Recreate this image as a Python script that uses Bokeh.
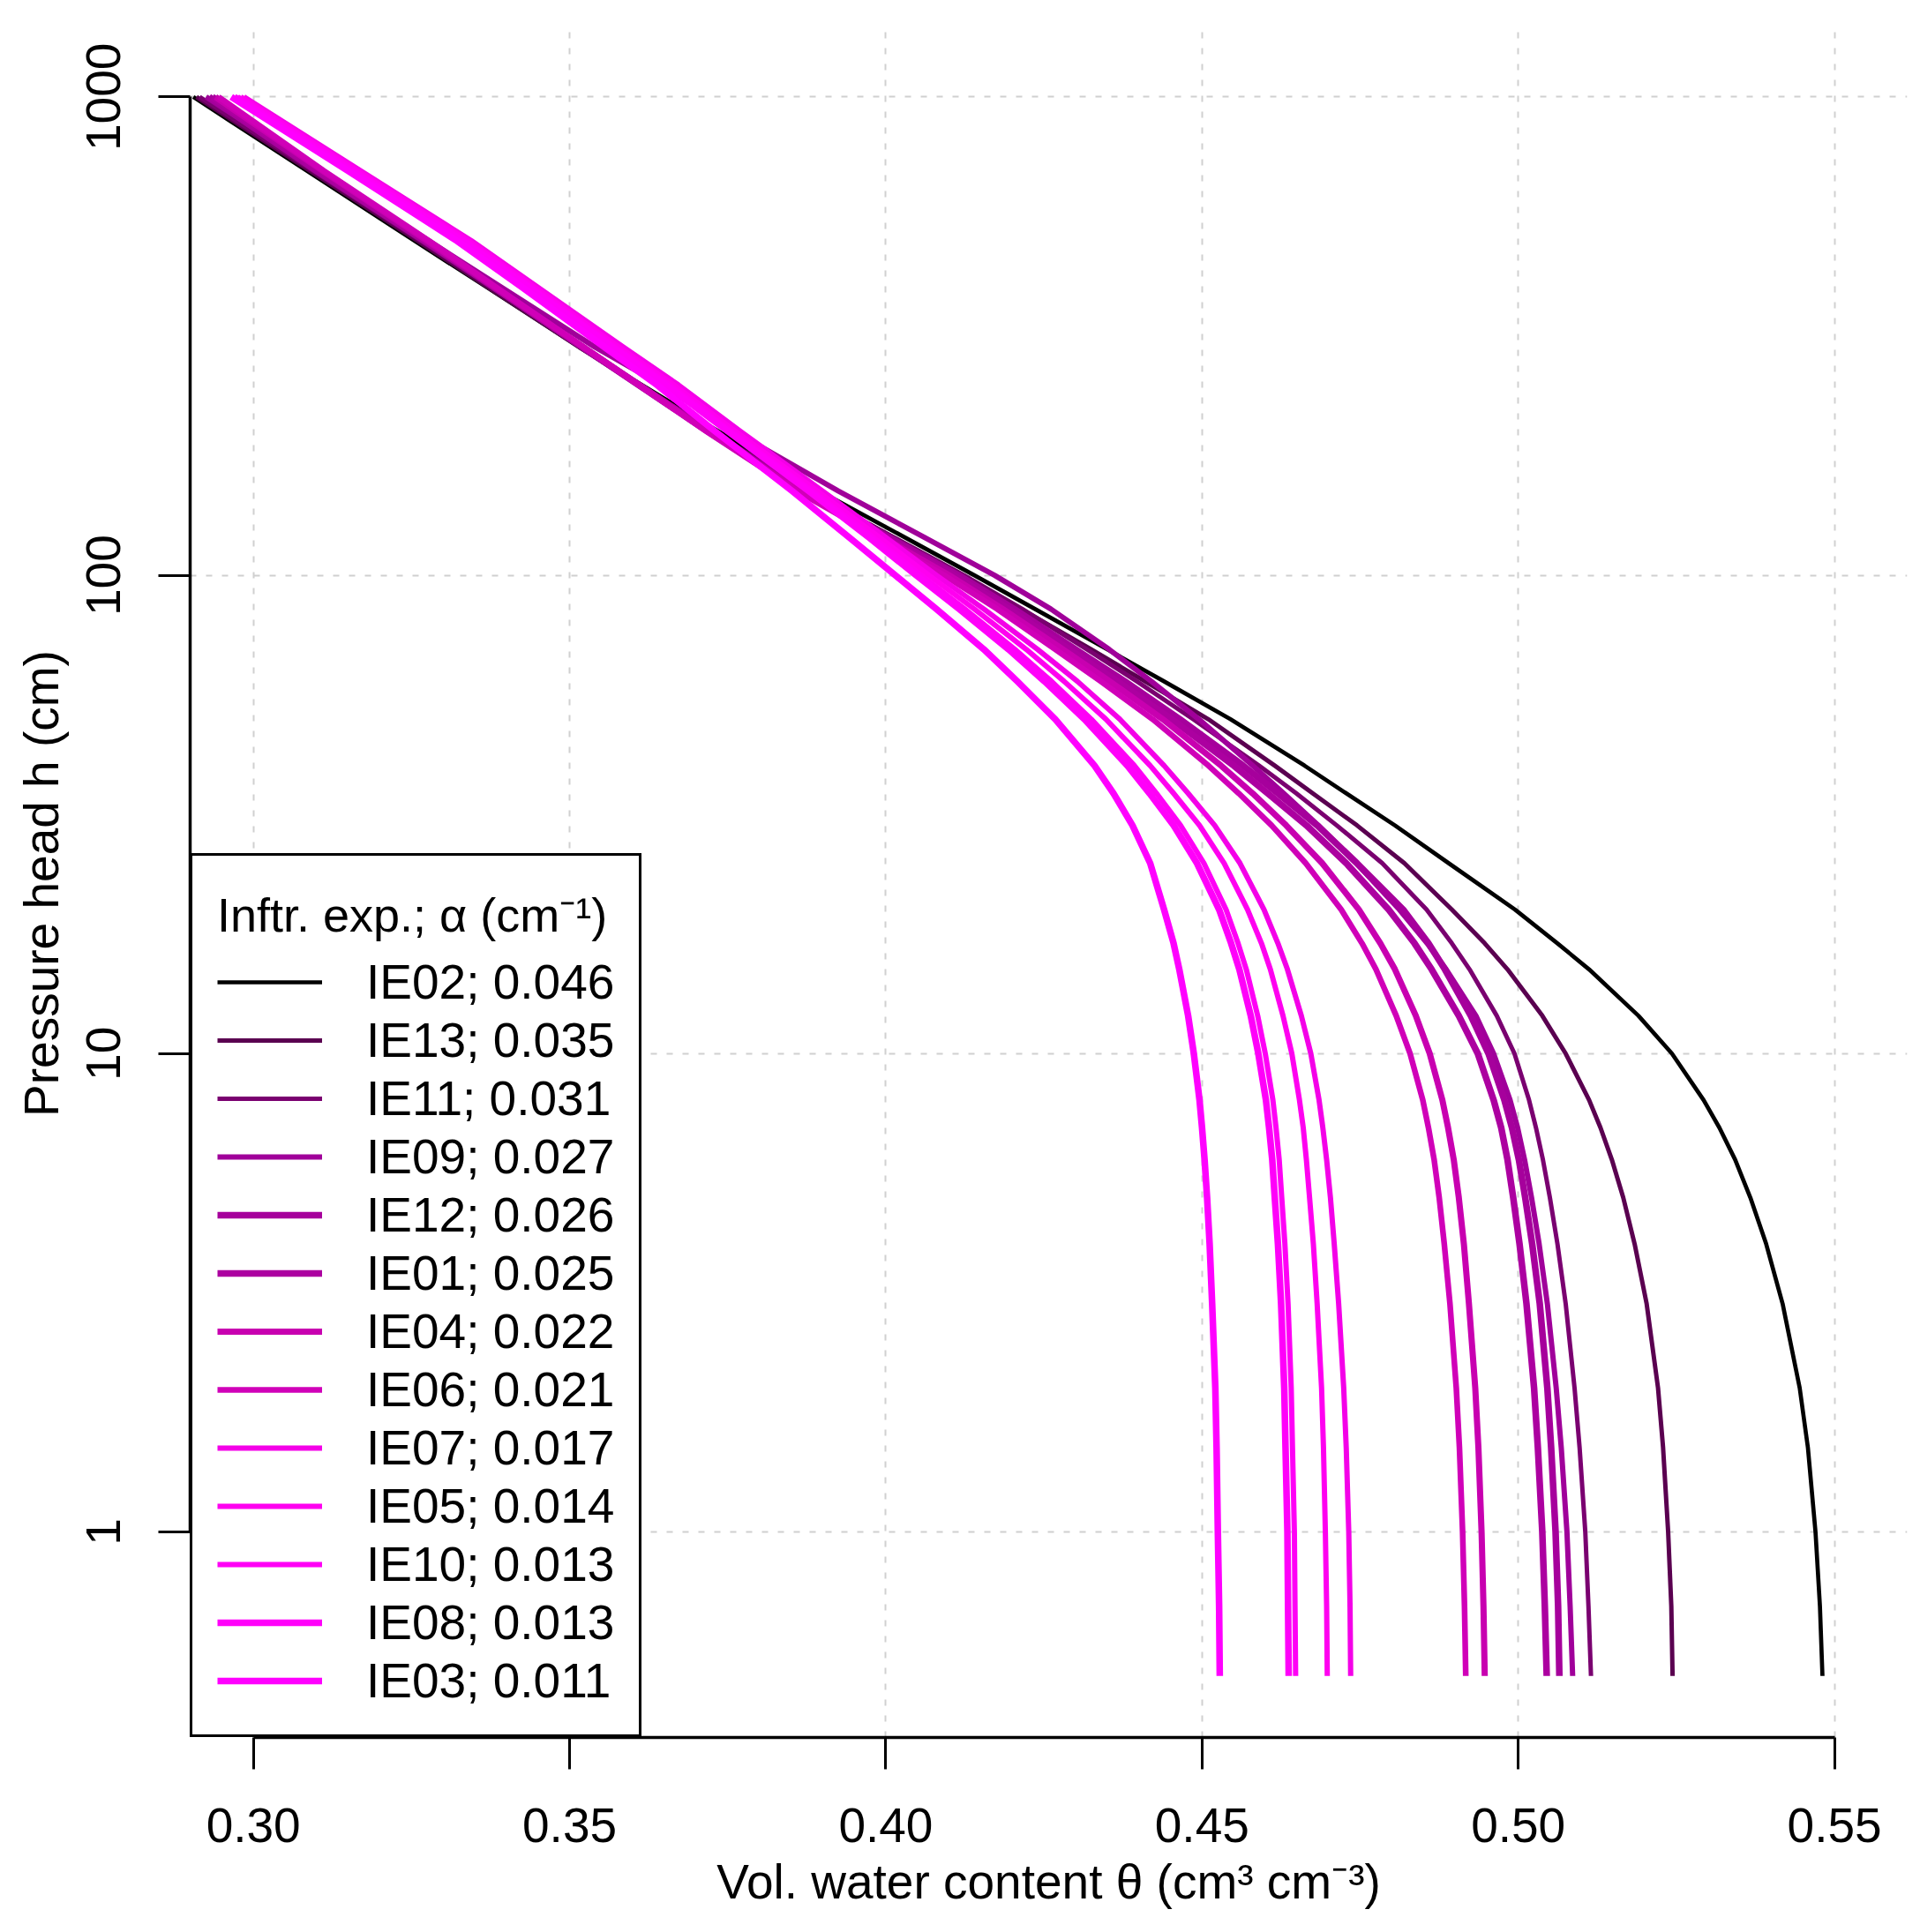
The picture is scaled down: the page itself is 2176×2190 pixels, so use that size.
from bokeh.plotting import figure
from bokeh.models import Range1d, FixedTicker, PrintfTickFormatter, Legend, LegendItem
from bokeh.embed import file_html
from bokeh.resources import INLINE

H_CM = [1000, 700, 500, 400, 300, 250, 200, 150, 120, 100, 85, 70, 60, 50, 40, 35, 30, 25,
        20, 17, 15, 12, 10, 8, 7, 6, 5, 4, 3, 2, 1.5, 1, 0.7, 0.5]

IE02 = [.2905, .3085, .3255, .3369, .3515, .3614, .3735, .3895, .4030, .4140, .4236, .4350, .4440, .4545, .4662, .4728, .4805, .4890,
        .4995, .5062, .5112, .5190, .5243, .5293, .5318, .5343, .5367, .5392, .5418, .5445, .5458, .5470, .5477, .5481]
IE13 = [.2910, .3090, .3260, .3371, .3515, .3609, .3725, .3880, .4012, .4120, .4214, .4325, .4410, .4510, .4615, .4675, .4745, .4820,
        .4895, .4947, .4983, .5038, .5075, .5112, .5130, .5148, .5166, .5184, .5203, .5221, .5229, .5237, .5242, .5244]
IE11 = [.2915, .3095, .3265, .3376, .3520, .3612, .3725, .3875, .4013, .4124, .4216, .4318, .4397, .4486, .4590, .4649, .4713, .4785,
        .4855, .4895, .4923, .4966, .4994, .5017, .5028, .5039, .5050, .5062, .5075, .5089, .5097, .5106, .5111, .5115]
IE09 = [.2925, .3105, .3278, .3392, .3540, .3645, .3760, .3925, .4061, .4172, .4261, .4353, .4420, .4495, .4580, .4629, .4684, .4744,
        .4812, .4856, .4886, .4933, .4961, .4987, .4999, .5010, .5021, .5033, .5046, .5060, .5068, .5077, .5082, .5086]
IE12 = [.2930, .3100, .3270, .3381, .3520, .3610, .3720, .3870, .4005, .4115, .4203, .4300, .4378, .4465, .4565, .4620, .4682, .4745,
        .4818, .4858, .4884, .4925, .4953, .4978, .4990, .5001, .5011, .5022, .5034, .5046, .5052, .5059, .5063, .5065]
IE01 = [.2935, .3105, .3272, .3380, .3520, .3609, .3718, .3865, .3998, .4108, .4195, .4290, .4366, .4452, .4550, .4604, .4665, .4728,
        .4795, .4836, .4863, .4906, .4936, .4961, .4973, .4983, .4992, .5002, .5013, .5025, .5031, .5038, .5042, .5045]
IE04 = [.2940, .3110, .3275, .3382, .3522, .3610, .3718, .3865, .3995, .4100, .4185, .4280, .4354, .4438, .4530, .4580, .4633, .4690,
        .4748, .4782, .4805, .4838, .4860, .4880, .4889, .4898, .4906, .4914, .4922, .4932, .4937, .4942, .4945, .4947]
IE06 = [.2945, .3112, .3278, .3384, .3522, .3609, .3716, .3860, .3988, .4092, .4176, .4268, .4340, .4422, .4510, .4558, .4610, .4664,
        .4720, .4753, .4775, .4807, .4829, .4849, .4858, .4867, .4875, .4883, .4892, .4902, .4907, .4912, .4915, .4917]
IE07 = [.2985, .3170, .3345, .3450, .3585, .3672, .3770, .3900, .4000, .4080, .4155, .4240, .4303, .4370, .4440, .4478, .4520, .4560,
        .4598, .4620, .4635, .4657, .4672, .4685, .4691, .4697, .4703, .4709, .4716, .4724, .4728, .4732, .4734, .4735]
IE05 = [.2980, .3165, .3340, .3445, .3578, .3665, .3762, .3892, .3990, .4068, .4140, .4222, .4282, .4348, .4418, .4455, .4496, .4535,
        .4572, .4594, .4608, .4628, .4642, .4654, .4660, .4665, .4670, .4676, .4682, .4689, .4692, .4695, .4697, .4698]
IE10 = [.2975, .3160, .3335, .3440, .3572, .3658, .3755, .3884, .3980, .4056, .4125, .4204, .4262, .4325, .4393, .4428, .4466, .4503,
        .4538, .4557, .4570, .4588, .4600, .4612, .4617, .4622, .4626, .4631, .4636, .4641, .4643, .4646, .4647, .4648]
IE08 = [.2970, .3155, .3330, .3435, .3567, .3652, .3750, .3878, .3973, .4048, .4116, .4194, .4251, .4314, .4382, .4417, .4455, .4492,
        .4527, .4546, .4559, .4577, .4589, .4601, .4606, .4611, .4615, .4620, .4625, .4630, .4632, .4635, .4636, .4637]
IE03 = [.2965, .3150, .3322, .3425, .3555, .3638, .3730, .3852, .3942, .4015, .4080, .4155, .4208, .4268, .4330, .4360, .4390, .4418,
        .4440, .4455, .4464, .4478, .4487, .4496, .4500, .4504, .4508, .4512, .4516, .4521, .4523, .4525, .4527, .4528]

NAMES = ["IE02", "IE13", "IE11", "IE09", "IE12", "IE01", "IE04", "IE06", "IE07", "IE05", "IE10", "IE08", "IE03"]
ALPHA = ["0.046", "0.035", "0.031", "0.027", "0.026", "0.025", "0.022", "0.021", "0.017", "0.014", "0.013", "0.013", "0.011"]
SERIES = [IE02, IE13, IE11, IE09, IE12, IE01, IE04, IE06, IE07, IE05, IE10, IE08, IE03]
COLORS = ["#000000", "#5a0050", "#7a0070", "#a0009a", "#a6009c", "#ac00a0", "#c800b0", "#d000b8",
          "#f400e8", "#ff00f0", "#ff00f6", "#ff00fa", "#ff00ff"]
WIDTHS = [4.7, 5, 5, 6, 7.5, 7.5, 7, 6.5, 6, 6, 6, 7.5, 7.5]

X_TICKS = [0.30, 0.35, 0.40, 0.45, 0.50, 0.55]
Y_TICKS = [1, 10, 100, 1000]
LEGEND_TITLE = "Inftr. exp.; \u03b1 (cm\u207b\u00b9)"

FONT = "Liberation Sans"

p = figure(width=2176, height=2190, output_backend="svg", toolbar_location=None,
           x_range=Range1d(0.29, 0.5615), y_range=Range1d(0.3718, 1383), y_axis_type="log",
           min_border_left=215, min_border_right=15, min_border_top=33, min_border_bottom=221)
p.outline_line_color = None
p.background_fill_color = "white"

for ax in (p.xaxis[0], p.yaxis[0]):
    ax.axis_line_width = 3.5
    ax.axis_line_color = "black"
    ax.major_tick_line_width = 3
    ax.major_tick_line_color = "black"
    ax.major_tick_out = 36
    ax.major_tick_in = 0
    ax.minor_tick_line_color = None
    ax.major_label_text_font = FONT
    ax.major_label_text_font_size = "55px"
    ax.major_label_text_color = "black"
    ax.axis_label_text_font = FONT
    ax.axis_label_text_font_size = "55px"
    ax.axis_label_text_font_style = "normal"
    ax.axis_label_text_color = "black"

p.xaxis.ticker = FixedTicker(ticks=X_TICKS)
p.xaxis.formatter = PrintfTickFormatter(format="%.2f")
p.xaxis.bounds = (X_TICKS[0], X_TICKS[-1])
p.xaxis.major_label_standoff = 44
p.xaxis.axis_label = "Vol. water content \u03b8 (cm\u00b3 cm\u207b\u00b3)"
p.xaxis.axis_label_standoff = 11

p.yaxis.ticker = FixedTicker(ticks=Y_TICKS)
p.yaxis.major_label_overrides = {t: str(t) for t in Y_TICKS}
p.yaxis.major_label_orientation = "vertical"
p.yaxis.bounds = (Y_TICKS[0], Y_TICKS[-1])
p.yaxis.major_label_standoff = 43
p.yaxis.axis_label = "Pressure head h (cm)"
p.yaxis.axis_label_standoff = 18

for g in (p.xgrid[0], p.ygrid[0]):
    g.grid_line_color = "#d0d0d0"
    g.grid_line_width = 2
    g.grid_line_dash = "7 11"
p.xgrid.ticker = FixedTicker(ticks=X_TICKS)
p.ygrid.ticker = FixedTicker(ticks=Y_TICKS)

items = []
for name, a, th, c, w in zip(NAMES, ALPHA, SERIES, COLORS, WIDTHS):
    r = p.line(x=th, y=H_CM, line_color=c, line_width=w, line_join="round")
    items.append(LegendItem(label=f"{name}; {a}", renderers=[r]))

legend = Legend(items=items, location="bottom_left", margin=0, padding=28, spacing=0,
                label_height=66, glyph_height=66, glyph_width=119, label_standoff=50,
                border_line_color="black", border_line_width=3, border_line_alpha=1.0,
                background_fill_color="white", background_fill_alpha=1.0,
                title=LEGEND_TITLE, title_standoff=8)
legend.label_text_font = FONT
legend.label_text_font_size = "55px"
legend.label_text_color = "black"
legend.title_text_font = FONT
legend.title_text_font_size = "54px"
legend.title_text_font_style = "normal"
legend.title_text_color = "black"
p.add_layout(legend)

open("out.html", "w").write(file_html(p, INLINE))
